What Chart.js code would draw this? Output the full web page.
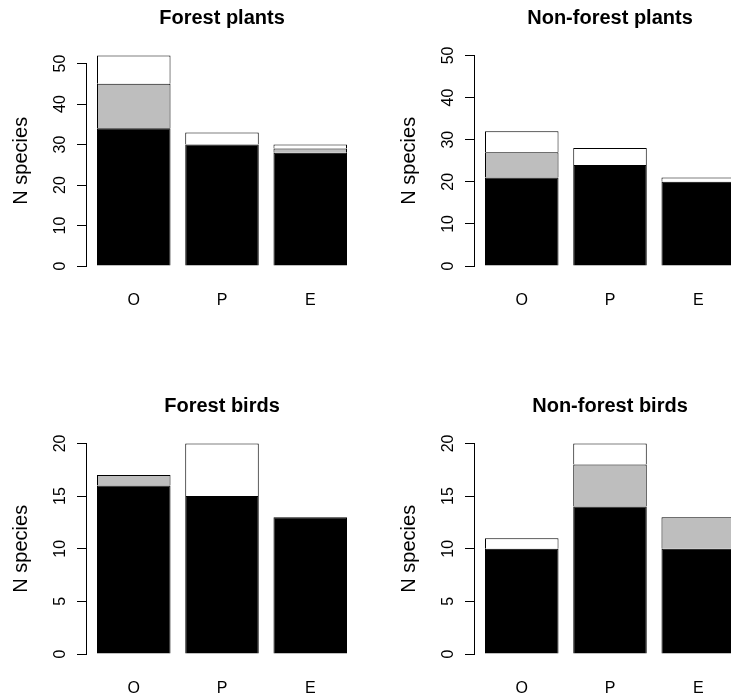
<!DOCTYPE html>
<html>
<head>
<meta charset="utf-8">
<script src="https://cdn.jsdelivr.net/npm/chart.js@4.4.1/dist/chart.umd.min.js"></script>
<style>
  html, body { margin: 0; padding: 0; background: #ffffff; }
  #wrap { position: relative; width: 731px; height: 698px; overflow: hidden; background: #ffffff; }
  #wrap canvas { position: absolute; }
</style>
</head>
<body>
<div id="wrap">
  <canvas id="p0" width="388" height="388" style="left:0px;top:0px"></canvas>
  <canvas id="p1" width="388" height="388" style="left:388px;top:0px"></canvas>
  <canvas id="p2" width="388" height="388" style="left:0px;top:388px"></canvas>
  <canvas id="p3" width="388" height="388" style="left:388px;top:388px"></canvas>
</div>
<script>
// ---------------- data ----------------
const categories = ['O', 'P', 'E'];
const panelTitles = ['Forest plants', 'Non-forest plants', 'Forest birds', 'Non-forest birds'];
const yAxisTitle = 'N species';

// stacked segments: black (bottom), grey (middle), white (top)
const forestPlantsBlack = [34, 30, 28];
const forestPlantsGrey  = [11, 0, 1];
const forestPlantsWhite = [7, 3, 1];

const nonForestPlantsBlack = [21, 24, 20];
const nonForestPlantsGrey  = [6, 0, 0];
const nonForestPlantsWhite = [5, 4, 1];

const forestBirdsBlack = [16, 15, 13];
const forestBirdsGrey  = [1, 0, 0];
const forestBirdsWhite = [0, 5, 0];

const nonForestBirdsBlack = [10, 14, 10];
const nonForestBirdsGrey  = [0, 4, 3];
const nonForestBirdsWhite = [1, 2, 0];

// y tick labels and y limits
const plantTicks = [0, 10, 20, 30, 40, 50];
const birdTicks  = [0, 5, 10, 15, 20];
const forestPlantsYlim    = [0, 52];
const nonForestPlantsYlim = [0, 50];
const birdsYlim           = [0, 20];

// ---------------- layout helpers (R barplot geometry) ----------------
const barWidth = 1, barSpace = 0.2;
const barCenter = i => barSpace + i * (barWidth + barSpace) + barWidth / 2;
const xLo = barSpace, xHi = categories.length * (barWidth + barSpace);
const xExt = (xHi - xLo) * 0.04;
const rRange = lim => { const e = (lim[1] - lim[0]) * 0.04; return [lim[0] - e, lim[1] + e]; };

const FONT = "'Liberation Sans', Arial, sans-serif";
const fillColors = ['#000000', '#BEBEBE', '#FFFFFF'];

const panels = [
  { id: 'p0', title: panelTitles[0], series: [forestPlantsBlack, forestPlantsGrey, forestPlantsWhite], ticks: plantTicks, ylim: forestPlantsYlim },
  { id: 'p1', title: panelTitles[1], series: [nonForestPlantsBlack, nonForestPlantsGrey, nonForestPlantsWhite], ticks: plantTicks, ylim: nonForestPlantsYlim },
  { id: 'p2', title: panelTitles[2], series: [forestBirdsBlack, forestBirdsGrey, forestBirdsWhite], ticks: birdTicks, ylim: birdsYlim },
  { id: 'p3', title: panelTitles[3], series: [nonForestBirdsBlack, nonForestBirdsGrey, nonForestBirdsWhite], ticks: birdTicks, ylim: birdsYlim }
];

// R-style y axis line: drawn only from first to last tick
const rAxisLine = {
  id: 'rAxisLine',
  afterDraw(chart) {
    const ys = chart.scales.y;
    const t = ys.ticks;
    if (!t.length) return;
    const ctx = chart.ctx;
    const x = Math.round(ys.right) - 0.5;
    ctx.save();
    ctx.strokeStyle = '#000';
    ctx.lineWidth = 1;
    ctx.beginPath();
    ctx.moveTo(x, Math.round(ys.getPixelForValue(t[0].value)) + 1);
    ctx.lineTo(x, Math.round(ys.getPixelForValue(t[t.length - 1].value)));
    ctx.stroke();
    ctx.restore();
  }
};

panels.forEach(p => {
  const yr = rRange(p.ylim);
  const datasets = p.series.map((vals, k) => ({
    label: ['black', 'grey', 'white'][k],
    data: vals.map((v, i) => ({ x: barCenter(i), y: v })),
    backgroundColor: fillColors[k],
    borderColor: '#000000',
    borderWidth: 1,
    categoryPercentage: 1,
    barPercentage: barWidth / (barWidth + barSpace)
  }));

  new Chart(document.getElementById(p.id), {
    type: 'bar',
    data: { datasets },
    plugins: [rAxisLine],
    options: {
      responsive: false,
      animation: false,
      devicePixelRatio: 1,
      layout: { padding: { left: 0, top: 0, right: 31, bottom: 0 } },
      plugins: {
        legend: { display: false },
        tooltip: { enabled: false },
        title: {
          display: true,
          text: p.title,
          fullSize: false,
          color: '#000',
          font: { family: FONT, size: 20, weight: 'bold', lineHeight: 1.2 },
          padding: { top: 6.5, bottom: 16.5 }
        }
      },
      scales: {
        x: {
          type: 'linear',
          stacked: true,
          offset: false,
          min: xLo - xExt,
          max: xHi + xExt,
          grid: { display: false, drawTicks: false },
          border: { display: false },
          afterBuildTicks: s => { s.ticks = categories.map((c, i) => ({ value: barCenter(i) })); },
          afterFit: s => { s.height = 113.5; },
          ticks: {
            color: '#000',
            font: { family: FONT, size: 16 },
            padding: 16.5,
            maxRotation: 0,
            autoSkip: false,
            callback: (v, i) => categories[i]
          }
        },
        y: {
          type: 'linear',
          stacked: true,
          min: yr[0],
          max: yr[1],
          grid: { display: true, drawOnChartArea: false, drawTicks: true, tickLength: 10, color: '#000', lineWidth: 1 },
          border: { display: false },
          afterBuildTicks: s => { s.ticks = p.ticks.map(v => ({ value: v })); },
          afterFit: s => { s.width = 87; },
          ticks: {
            color: '#000',
            font: { family: FONT, size: 16 },
            minRotation: 90,
            maxRotation: 90,
            crossAlign: 'center',
            padding: 8,
            autoSkip: false
          },
          title: {
            display: true,
            text: yAxisTitle,
            color: '#000',
            font: { family: FONT, size: 20, lineHeight: 1.2 },
            padding: { top: 9, bottom: 0 }
          }
        }
      }
    }
  });
});
</script>
</body>
</html>
